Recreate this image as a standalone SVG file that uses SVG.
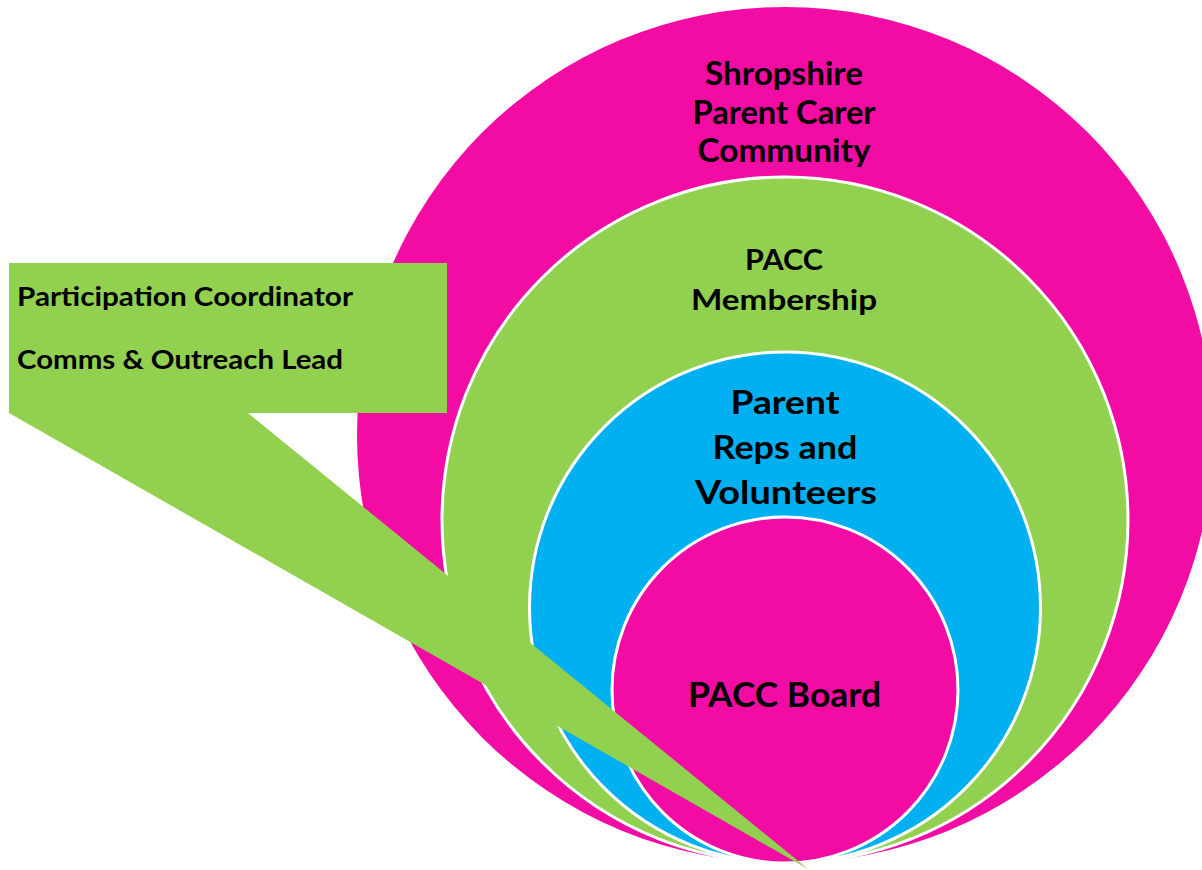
<svg xmlns="http://www.w3.org/2000/svg" width="1202" height="870" viewBox="0 0 1202 870">
<style>
.ring{stroke:#ffffff;stroke-width:3}
.pink{fill:#F20CA3}
.green{fill:#92D050}
.blue{fill:#00B0F0}
.t{font-family:Lato,"Open Sans","Liberation Sans",sans-serif;font-weight:bold;fill:#000000;text-anchor:middle}
.c{font-family:Lato,"Open Sans","Liberation Sans",sans-serif;font-weight:bold;fill:#000000}
</style>
<rect width="1202" height="870" fill="#ffffff"/>
<g id="community">
<circle class="pink" cx="785" cy="435" r="428"/>
<text class="t" font-size="32" x="784" y="85" textLength="158" lengthAdjust="spacingAndGlyphs">Shropshire</text>
<text class="t" font-size="32" x="784" y="124" textLength="183" lengthAdjust="spacingAndGlyphs">Parent Carer</text>
<text class="t" font-size="32" x="784" y="162" textLength="173" lengthAdjust="spacingAndGlyphs">Community</text>
</g>
<g id="membership">
<circle class="green ring" cx="785" cy="520" r="343"/>
<text class="t" font-size="29" x="784" y="270" textLength="78" lengthAdjust="spacingAndGlyphs">PACC</text>
<text class="t" font-size="29" x="784" y="310" textLength="186" lengthAdjust="spacingAndGlyphs">Membership</text>
</g>
<g id="reps">
<circle class="blue ring" cx="785" cy="607.5" r="255.5"/>
<text class="t" font-size="33" x="785" y="414" textLength="109" lengthAdjust="spacingAndGlyphs">Parent</text>
<text class="t" font-size="33" x="785" y="459" textLength="145" lengthAdjust="spacingAndGlyphs">Reps and</text>
<text class="t" font-size="33" x="786" y="504" textLength="182" lengthAdjust="spacingAndGlyphs">Volunteers</text>
</g>
<g id="board">
<circle class="pink ring" cx="785" cy="690" r="173"/>
<text class="t" font-size="34" x="784.5" y="707" textLength="193" lengthAdjust="spacingAndGlyphs">PACC Board</text>
</g>
<g id="callout">
<path class="green" d="M9,263 H447 V413 H248 L808,869 L9,413 Z"/>
<text class="c" font-size="26" x="17" y="306" textLength="336" lengthAdjust="spacingAndGlyphs">Participation Coordinator</text>
<text class="c" font-size="26" x="17" y="369" textLength="326" lengthAdjust="spacingAndGlyphs">Comms &amp; Outreach Lead</text>
</g>
<g id="connectors"/>
</svg>
